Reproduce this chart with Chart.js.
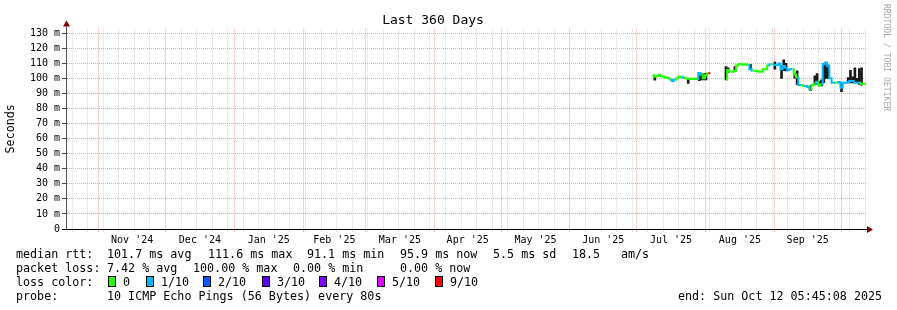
<!DOCTYPE html>
<html>
<head>
<meta charset="utf-8">
<title>Last 360 Days</title>
<script src="https://cdn.jsdelivr.net/npm/chart.js@4/dist/chart.umd.min.js"></script>
<style>
  html, body { margin: 0; padding: 0; background: #fff; }
  #wrap { position: relative; width: 897px; height: 310px; overflow: hidden; }
  #chart { position: absolute; left: 0; top: 0; }
  .t { position: absolute; font-family: "DejaVu Sans Mono", monospace; font-size: 11.7px; line-height: 14px; white-space: pre; color: #000; }
  .box { position: absolute; width: 6px; height: 9px; border: 1px solid #000; }
  #credit { position: absolute; left: 882px; top: 4px; writing-mode: vertical-rl; font-family: "DejaVu Sans Mono", monospace; font-size: 8.1px; color: #a8a8a8; white-space: pre; }
</style>
</head>
<body>
<div id="wrap">
  <canvas id="chart" width="897" height="310"></canvas>
  <div id="credit">RRDTOOL / TOBI OETIKER</div>

  <div class="t" style="left:16px;top:247px">median rtt:</div>
  <div class="t" style="left:107px;top:247px">101.7 ms avg</div>
  <div class="t" style="left:208px;top:247px">111.6 ms max</div>
  <div class="t" style="left:307px;top:247px">91.1 ms min</div>
  <div class="t" style="left:400px;top:247px">95.9 ms now</div>
  <div class="t" style="left:493px;top:247px">5.5 ms sd</div>
  <div class="t" style="left:572px;top:247px">18.5</div>
  <div class="t" style="left:621px;top:247px">am/s</div>

  <div class="t" style="left:16px;top:261px">packet loss:</div>
  <div class="t" style="left:107px;top:261px">7.42 % avg</div>
  <div class="t" style="left:193px;top:261px">100.00 % max</div>
  <div class="t" style="left:293px;top:261px">0.00 % min</div>
  <div class="t" style="left:400px;top:261px">0.00 % now</div>

  <div class="t" style="left:16px;top:275px">loss color:</div>
  <div id="lossLegend"></div>

  <div class="t" style="left:16px;top:289px">probe:</div>
  <div class="t" style="left:107px;top:289px">10 ICMP Echo Pings (56 Bytes) every 80s</div>
  <div class="t" style="left:678px;top:289px">end: Sun Oct 12 05:45:08 2025</div>
</div>
<script>
// time span of the graph
const endTime = Date.UTC(2025, 9, 12, 5, 45, 8);
const spanDays = 360;
const startTime = endTime - spanDays * 86400000;

// x axis: month boundaries and their labels
const monthStarts = ['2024-11-01', '2024-12-01', '2025-01-01', '2025-02-01', '2025-03-01', '2025-04-01',
  '2025-05-01', '2025-06-01', '2025-07-01', '2025-08-01', '2025-09-01', '2025-10-01'];
const monthLabels = ["Nov '24", "Dec '24", "Jan '25", "Feb '25", "Mar '25", "Apr '25",
  "May '25", "Jun '25", "Jul '25", "Aug '25", "Sep '25"];
const firstWeekLine = '2024-10-20';

// y axis
const yMajor = [0, 10, 20, 30, 40, 50, 60, 70, 80, 90, 100, 110, 120, 130];
const yMinor = [5, 15, 25, 35, 45, 55, 65, 75, 85, 95, 105, 115, 125];
const yMax = 133;

// loss colours
const lossLevels = [0, 1, 2, 3, 4, 5, 9];
const lossNames = ['0', '1/10', '2/10', '3/10', '4/10', '5/10', '9/10'];
const lossColors = ['#26ff00', '#00b8ff', '#0059ff', '#5e00ff', '#7e00ff', '#dd00ff', '#ff0000'];

// samples: day since start of graph, median rtt (ms), lost pings of 10
const days = [264, 265, 266, 267, 268, 269, 270, 271, 272, 273, 274, 275, 276, 277, 278, 279, 280,
  281, 282, 283, 284, 285, 286, 287, 288, 289, 290, 291, 292, 293, 294, 295, 296, 297, 298, 299, 300,
  301, 302, 303, 304, 305, 306, 307, 308, 309, 310, 311, 312, 313, 314, 315, 316, 317, 318, 319, 320,
  321, 322, 323, 324, 325, 326, 327, 328, 329, 330, 331, 332, 333, 334, 335, 336, 337, 338, 339, 340,
  341, 342, 343, 344, 345, 346, 347, 348, 349, 350, 351, 352, 353, 354, 355, 356, 357, 358, 359, 360];
const median = [102.2, 101.0, 101.5, 102.2, 101.3, 101.0, 100.6, 100.2, 99.3, 98.2, 99.0, 100.0, 101.2,
  101.0, 100.4, 100.0, 99.8, 99.6, 99.6, 99.8, 99.5, 103.5, 102.5, 100.0, 102.0, 103.3, 103.3,
  null, null, null, null, null, null,
  99.3, 105.5, 104.5, 104.4, 105.0, 108.5, 109.5, 109.3, 109.0, 109.3, 108.8, 106.0, 105.0, 105.0,
  104.9, 104.4, 104.4, 106.0, 106.0, 108.5, 109.3, 109.3, 108.9, 108.9, 109.8, 106.0, 108.2, 107.0,
  105.3, 106.0, 106.0, 102.5, 100.5, 95.6, 95.6, 94.9, 94.9, 94.2, 92.7, 95.5, 96.5, 97.8, 95.3, 96.0,
  109.3, 110.4, 108.0, 100.0, 97.1, 97.1, 97.1, 97.5, 93.8, 97.1, 97.1, 97.5, 98.2, 98.2, 97.1, 97.1,
  97.1, 96.4, 96.4, 96.4];
const loss = [0, 0, 0, 0, 0, 0, 0, 0, 0, 1, 1, 0, 0, 0, 1, 0, 0, 0, 0, 0, 0, 1, 1, 0, 0, 0, 9,
  0, 0, 0, 0, 0, 0,
  3, 0, 0, 0, 0, 0, 0, 0, 0, 0, 0, 1, 1, 0, 0, 0, 0, 0, 0, 0, 1, 0, 1, 1, 1, 1, 1, 1, 1, 1, 1, 0, 0,
  1, 1, 0, 1, 1, 1, 0, 0, 1, 0, 0, 1, 1, 1, 1, 1, 1, 0, 1, 1, 1, 1, 1, 1, 1, 1, 1, 1, 0, 0, 0];

// visible smoke (spread of the pings) per sample day
const smokeDays = [265, 280, 285, 286, 287, 288, 297, 298, 301, 308, 319, 322, 323, 324, 328, 329,
  335, 337, 338, 339, 340, 341, 342, 343, 349, 352, 353, 354, 355, 356, 357, 358];
const smokeLo = [98.7, 96.7, 98.5, 99.0, 99.0, 99.0, 99.0, 104.0, 104.5, 106.0, 106.0, 100.0, 105.0,
  104.9, 100.0, 96.0, 92.0, 96.0, 96.0, 95.0, 95.0, 97.1, 100.0, 100.0, 91.1, 97.0, 97.0, 97.0, 97.0,
  97.0, 96.0, 95.5];
const smokeHi = [101.5, 100.0, 104.0, 103.0, 103.0, 103.3, 107.8, 107.0, 107.8, 109.3, 110.7, 108.7,
  112.2, 110.0, 103.0, 104.9, 95.0, 101.6, 103.1, 98.0, 99.0, 109.8, 110.7, 109.0, 97.0, 100.5, 105.3,
  101.0, 107.0, 100.0, 106.5, 107.0];

const MAJOR_GRID = 'rgba(240, 70, 70, 0.5)';
const MINOR_GRID = 'rgba(150, 150, 150, 0.38)';
const NONE = 'rgba(0,0,0,0)';
const FONT = '"DejaVu Sans Mono", monospace';

function dayOf(iso) {
  return (Date.parse(iso + 'T00:00:00Z') - startTime) / 86400000;
}

function lossColor(n) {
  let c = lossColors[0];
  lossLevels.forEach((lvl, i) => { if (n >= lvl) c = lossColors[i]; });
  return c;
}

// x tick positions
const majorX = monthStarts.map(dayOf);
function isMajorX(v) {
  return majorX.some(m => Math.abs(m - v) < 0.01);
}
const labelAt = new Map();
for (let i = 0; i < monthLabels.length; i++) {
  labelAt.set((majorX[i] + majorX[i + 1]) / 2, monthLabels[i]);
}
const weekX = [];
for (let d = dayOf(firstWeekLine); d < spanDays; d += 7) {
  if (!isMajorX(d)) weekX.push(d);
}
const xTickValues = [...weekX, ...majorX.filter(v => v < spanDays), ...[...labelAt.keys()].filter(v => v < spanDays)]
  .sort((a, b) => a - b);

function xGridColor(ctx) {
  if (!ctx.tick) return NONE;
  if (labelAt.has(ctx.tick.value)) return NONE;
  return isMajorX(ctx.tick.value) ? MAJOR_GRID : MINOR_GRID;
}
function yGridColor(ctx) {
  if (!ctx.tick || ctx.tick.value === 0) return NONE;
  return yMajor.includes(ctx.tick.value) ? MAJOR_GRID : MINOR_GRID;
}

const medianPoints = days.map((d, i) => ({ x: d, y: median[i] }));
const smokePoints = smokeDays.map((d, i) => ({ x: d, y: [smokeLo[i], smokeHi[i]] }));

// loss legend squares
const legendEl = document.getElementById('lossLegend');
const boxX = [108, 146, 203, 262, 319, 377, 435];
lossNames.forEach((name, i) => {
  const b = document.createElement('div');
  b.className = 'box';
  b.style.left = boxX[i] + 'px';
  b.style.top = '276px';
  b.style.background = lossColors[i];
  legendEl.appendChild(b);
  const t = document.createElement('div');
  t.className = 't';
  t.style.left = (boxX[i] + 15) + 'px';
  t.style.top = '275px';
  t.textContent = name;
  legendEl.appendChild(t);
});

const axisArrows = {
  id: 'axisArrows',
  afterDraw(chart) {
    const { ctx, chartArea: a } = chart;
    ctx.save();
    const lx = Math.round(a.left) + 0.5;
    const by = Math.round(a.bottom) + 0.5;
    ctx.strokeStyle = '#000';
    ctx.lineWidth = 1;
    ctx.beginPath();
    ctx.moveTo(a.left - 4, by);
    ctx.lineTo(a.right + 2, by);
    ctx.stroke();
    ctx.strokeStyle = '#555';
    ctx.beginPath();
    ctx.moveTo(lx, a.top - 2);
    ctx.lineTo(lx, a.bottom);
    ctx.stroke();
    ctx.fillStyle = '#7f0000';
    ctx.beginPath();
    ctx.moveTo(lx - 3.5, a.top - 2);
    ctx.lineTo(lx + 3.5, a.top - 2);
    ctx.lineTo(lx, a.top - 8);
    ctx.closePath();
    ctx.fill();
    ctx.beginPath();
    ctx.moveTo(a.right + 1, by - 3.5);
    ctx.lineTo(a.right + 1, by + 3.5);
    ctx.lineTo(a.right + 7, by);
    ctx.closePath();
    ctx.fill();
    ctx.restore();
  }
};

new Chart(document.getElementById('chart'), {
  type: 'bar',
  data: {
    datasets: [
      {
        type: 'line',
        label: 'median rtt',
        data: medianPoints,
        order: 0,
        borderWidth: 2,
        pointRadius: 0,
        stepped: 'middle',
        spanGaps: false,
        borderColor: lossColors[0],
        segment: {
          borderColor: ctx => lossColor(loss[ctx.p1DataIndex])
        }
      },
      {
        type: 'bar',
        label: 'smoke',
        data: smokePoints,
        order: 1,
        backgroundColor: '#1a1a1a',
        barThickness: 2,
        borderWidth: 0
      }
    ]
  },
  options: {
    responsive: false,
    animation: false,
    devicePixelRatio: 1,
    layout: { padding: { left: 0, right: 31, top: 0, bottom: 65 } },
    plugins: {
      legend: { display: false },
      tooltip: { enabled: false },
      title: {
        display: true,
        text: 'Last 360 Days',
        color: '#000',
        font: { family: FONT, size: 13, weight: 'normal', lineHeight: 1.2 },
        padding: { top: 13, bottom: 0 }
      }
    },
    scales: {
      x: {
        type: 'linear',
        min: 0,
        max: spanDays,
        offset: false,
        afterBuildTicks: scale => { scale.ticks = xTickValues.map(v => ({ value: v })); },
        afterFit: scale => { scale.height = 16; },
        ticks: {
          autoSkip: false,
          maxRotation: 0,
          padding: 2,
          color: '#000',
          font: { family: FONT, size: 10 },
          callback: value => labelAt.get(value) || ''
        },
        grid: {
          offset: false,
          color: xGridColor,
          tickColor: xGridColor,
          tickLength: 3,
          lineWidth: 1
        },
        border: { display: true, color: '#000', width: 1, dash: [1, 1] }
      },
      y: {
        min: 0,
        max: yMax,
        afterBuildTicks: scale => {
          scale.ticks = [...yMajor, ...yMinor].sort((a, b) => a - b).map(v => ({ value: v }));
        },
        afterFit: scale => { scale.width = 66; },
        ticks: {
          padding: 2,
          color: '#000',
          font: { family: FONT, size: 10 },
          callback: value => yMajor.includes(value) ? (value === 0 ? '0' : value + ' m') : ''
        },
        grid: {
          color: yGridColor,
          tickColor: ctx => (ctx.tick && yMajor.includes(ctx.tick.value)) ? '#444' : NONE,
          tickLength: 4,
          lineWidth: 1
        },
        border: { display: true, color: '#555', width: 1, dash: [1, 1] },
        title: {
          display: true,
          text: 'Seconds',
          color: '#000',
          font: { family: FONT, size: 11.7, lineHeight: 1.2 },
          padding: { top: 4, bottom: 0 }
        }
      }
    }
  },
  plugins: [axisArrows]
});
</script>
</body>
</html>
